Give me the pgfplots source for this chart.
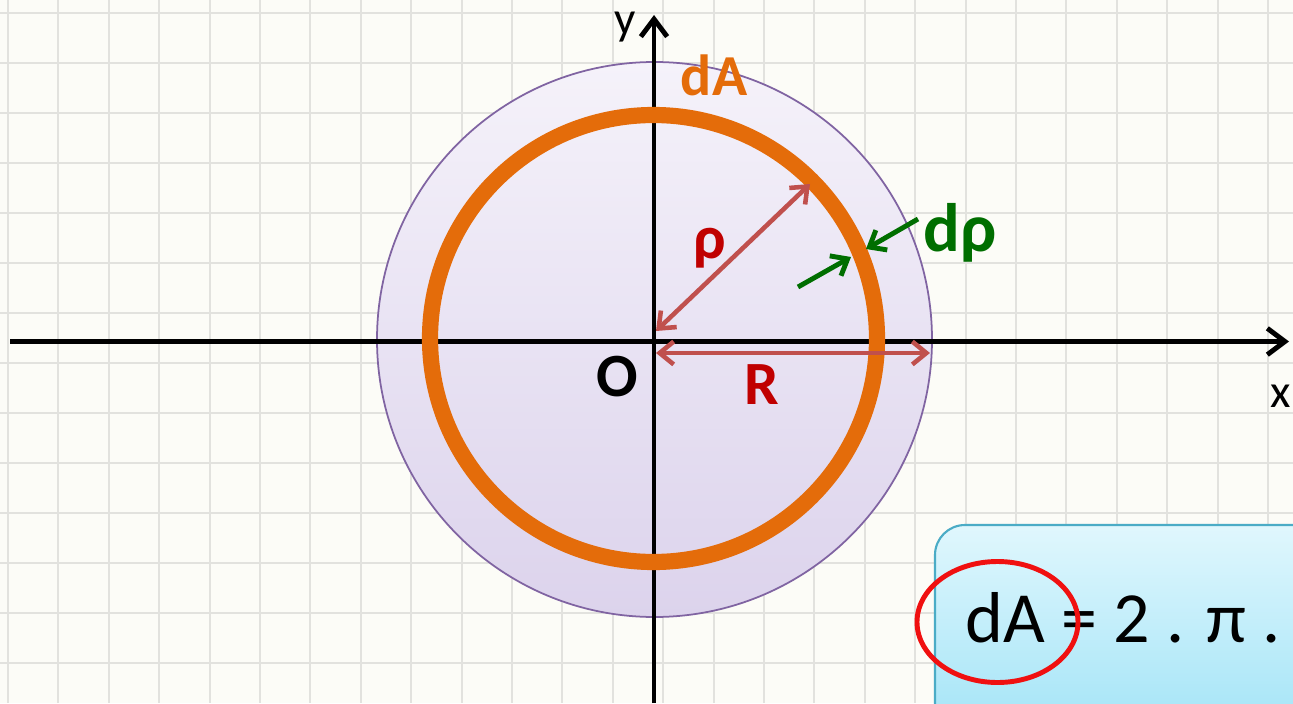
\documentclass[border=0pt]{standalone}
\usepackage{pgfplots}
\pgfplotsset{compat=1.18}
\usepackage{fontspec}
\setmainfont{Carlito}
\usetikzlibrary{arrows.meta}
\definecolor{bgcol}{HTML}{FCFCF7}
\definecolor{gridcol}{HTML}{E2E2DE}
\definecolor{orng}{HTML}{E46C0A}
\definecolor{lavtop}{HTML}{F5F2FA}
\definecolor{lavbot}{HTML}{DCD3EC}
\definecolor{purp}{HTML}{8064A2}
\definecolor{redarr}{HTML}{C0504D}
\definecolor{darkred}{HTML}{C00000}
\definecolor{grn}{HTML}{006E00}
\definecolor{boxtop}{HTML}{E0F7FD}
\definecolor{boxbot}{HTML}{A3E4F7}
\definecolor{boxline}{HTML}{4BACC6}
\definecolor{ellred}{HTML}{F01010}
\begin{document}
\begin{tikzpicture}
\begin{axis}[
  width=12.93cm, height=7.03cm, scale only axis,
  xmin=0, xmax=1293, ymin=0, ymax=703,
  axis line style={draw=none},
  axis background/.style={fill=bgcol},
  xtick={8,58.4,...,1293}, ytick={40,90,...,700},
  xticklabels={}, yticklabels={},
  major tick length=0pt,
  grid=major, grid style={gridcol, line width=0.55pt},
  clip=true,
]
% outer circle (dA region)
\shade[top color=lavtop, bottom color=lavbot, middle color=lavtop!50!lavbot] (axis cs:654.5,363.5) circle[radius=2.775cm];
\draw[purp, line width=0.5pt] (axis cs:654.5,363.5) circle[radius=2.775cm];
% axes
\addplot[black, line width=1.4pt, -{Straight Barb[length=5pt,width=7.5pt]}] coordinates {(10,361.5) (1289,361.5)};
\addplot[black, line width=1.4pt, -{Straight Barb[length=5pt,width=7.5pt]}] coordinates {(654,0) (654,688)};
% orange ring
\draw[orng, line width=4.6pt] (axis cs:653.5,364.5) circle[radius=2.235cm];
% rho arrow
\addplot[redarr, line width=1.3pt, {Straight Barb[length=4pt,width=6.5pt]}-{Straight Barb[length=4pt,width=6.5pt]}] coordinates {(656,372) (810,519)};
% R arrow
\addplot[redarr, line width=1.3pt, {Straight Barb[length=4pt,width=6.5pt]}-{Straight Barb[length=4pt,width=6.5pt]}] coordinates {(656,350) (930,350)};
% d rho arrows
\addplot[grn, line width=1.4pt, -{Straight Barb[length=4pt,width=6.5pt]}] coordinates {(918,484) (866,454)};
\addplot[grn, line width=1.4pt, -{Straight Barb[length=4pt,width=6.5pt]}] coordinates {(798,416) (851,446)};
% labels
\node[font=\fontsize{13.4}{14}\selectfont] at (axis cs:625,676) {y};
\node[font=\fontsize{13.4}{14}\selectfont] at (axis cs:1281,307) {x};
\node[orng, font=\fontsize{16.5}{18}\selectfont\bfseries] at (axis cs:714,628) {dA};
\node[darkred, font=\fontsize{17.5}{18}\selectfont\bfseries] at (axis cs:710,455) {ρ};
\node[darkred, font=\fontsize{17.5}{18}\selectfont\bfseries] at (axis cs:762,318) {R};
\node[black, font=\fontsize{17.5}{18}\selectfont\bfseries] at (axis cs:617,326) {O};
\node[grn, font=\fontsize{19.5}{20}\selectfont\bfseries] at (axis cs:960,470) {dρ};
% formula box
\draw[boxline, line width=0.6pt, rounded corners=0.3cm, top color=boxtop, bottom color=boxbot] (axis cs:935,178) rectangle (axis cs:1330,-30);
\node[anchor=base west, inner sep=0pt, font=\fontsize{20.5}{22}\selectfont] at (axis cs:965,61) {dA = 2 . π .};
\draw[ellred, line width=1.4pt] (axis cs:997.5,81) ellipse[x radius=0.805cm, y radius=0.605cm];
\end{axis}
\pgfresetboundingbox
\path (current axis.south west) rectangle (current axis.north east);
\end{tikzpicture}
\end{document}
